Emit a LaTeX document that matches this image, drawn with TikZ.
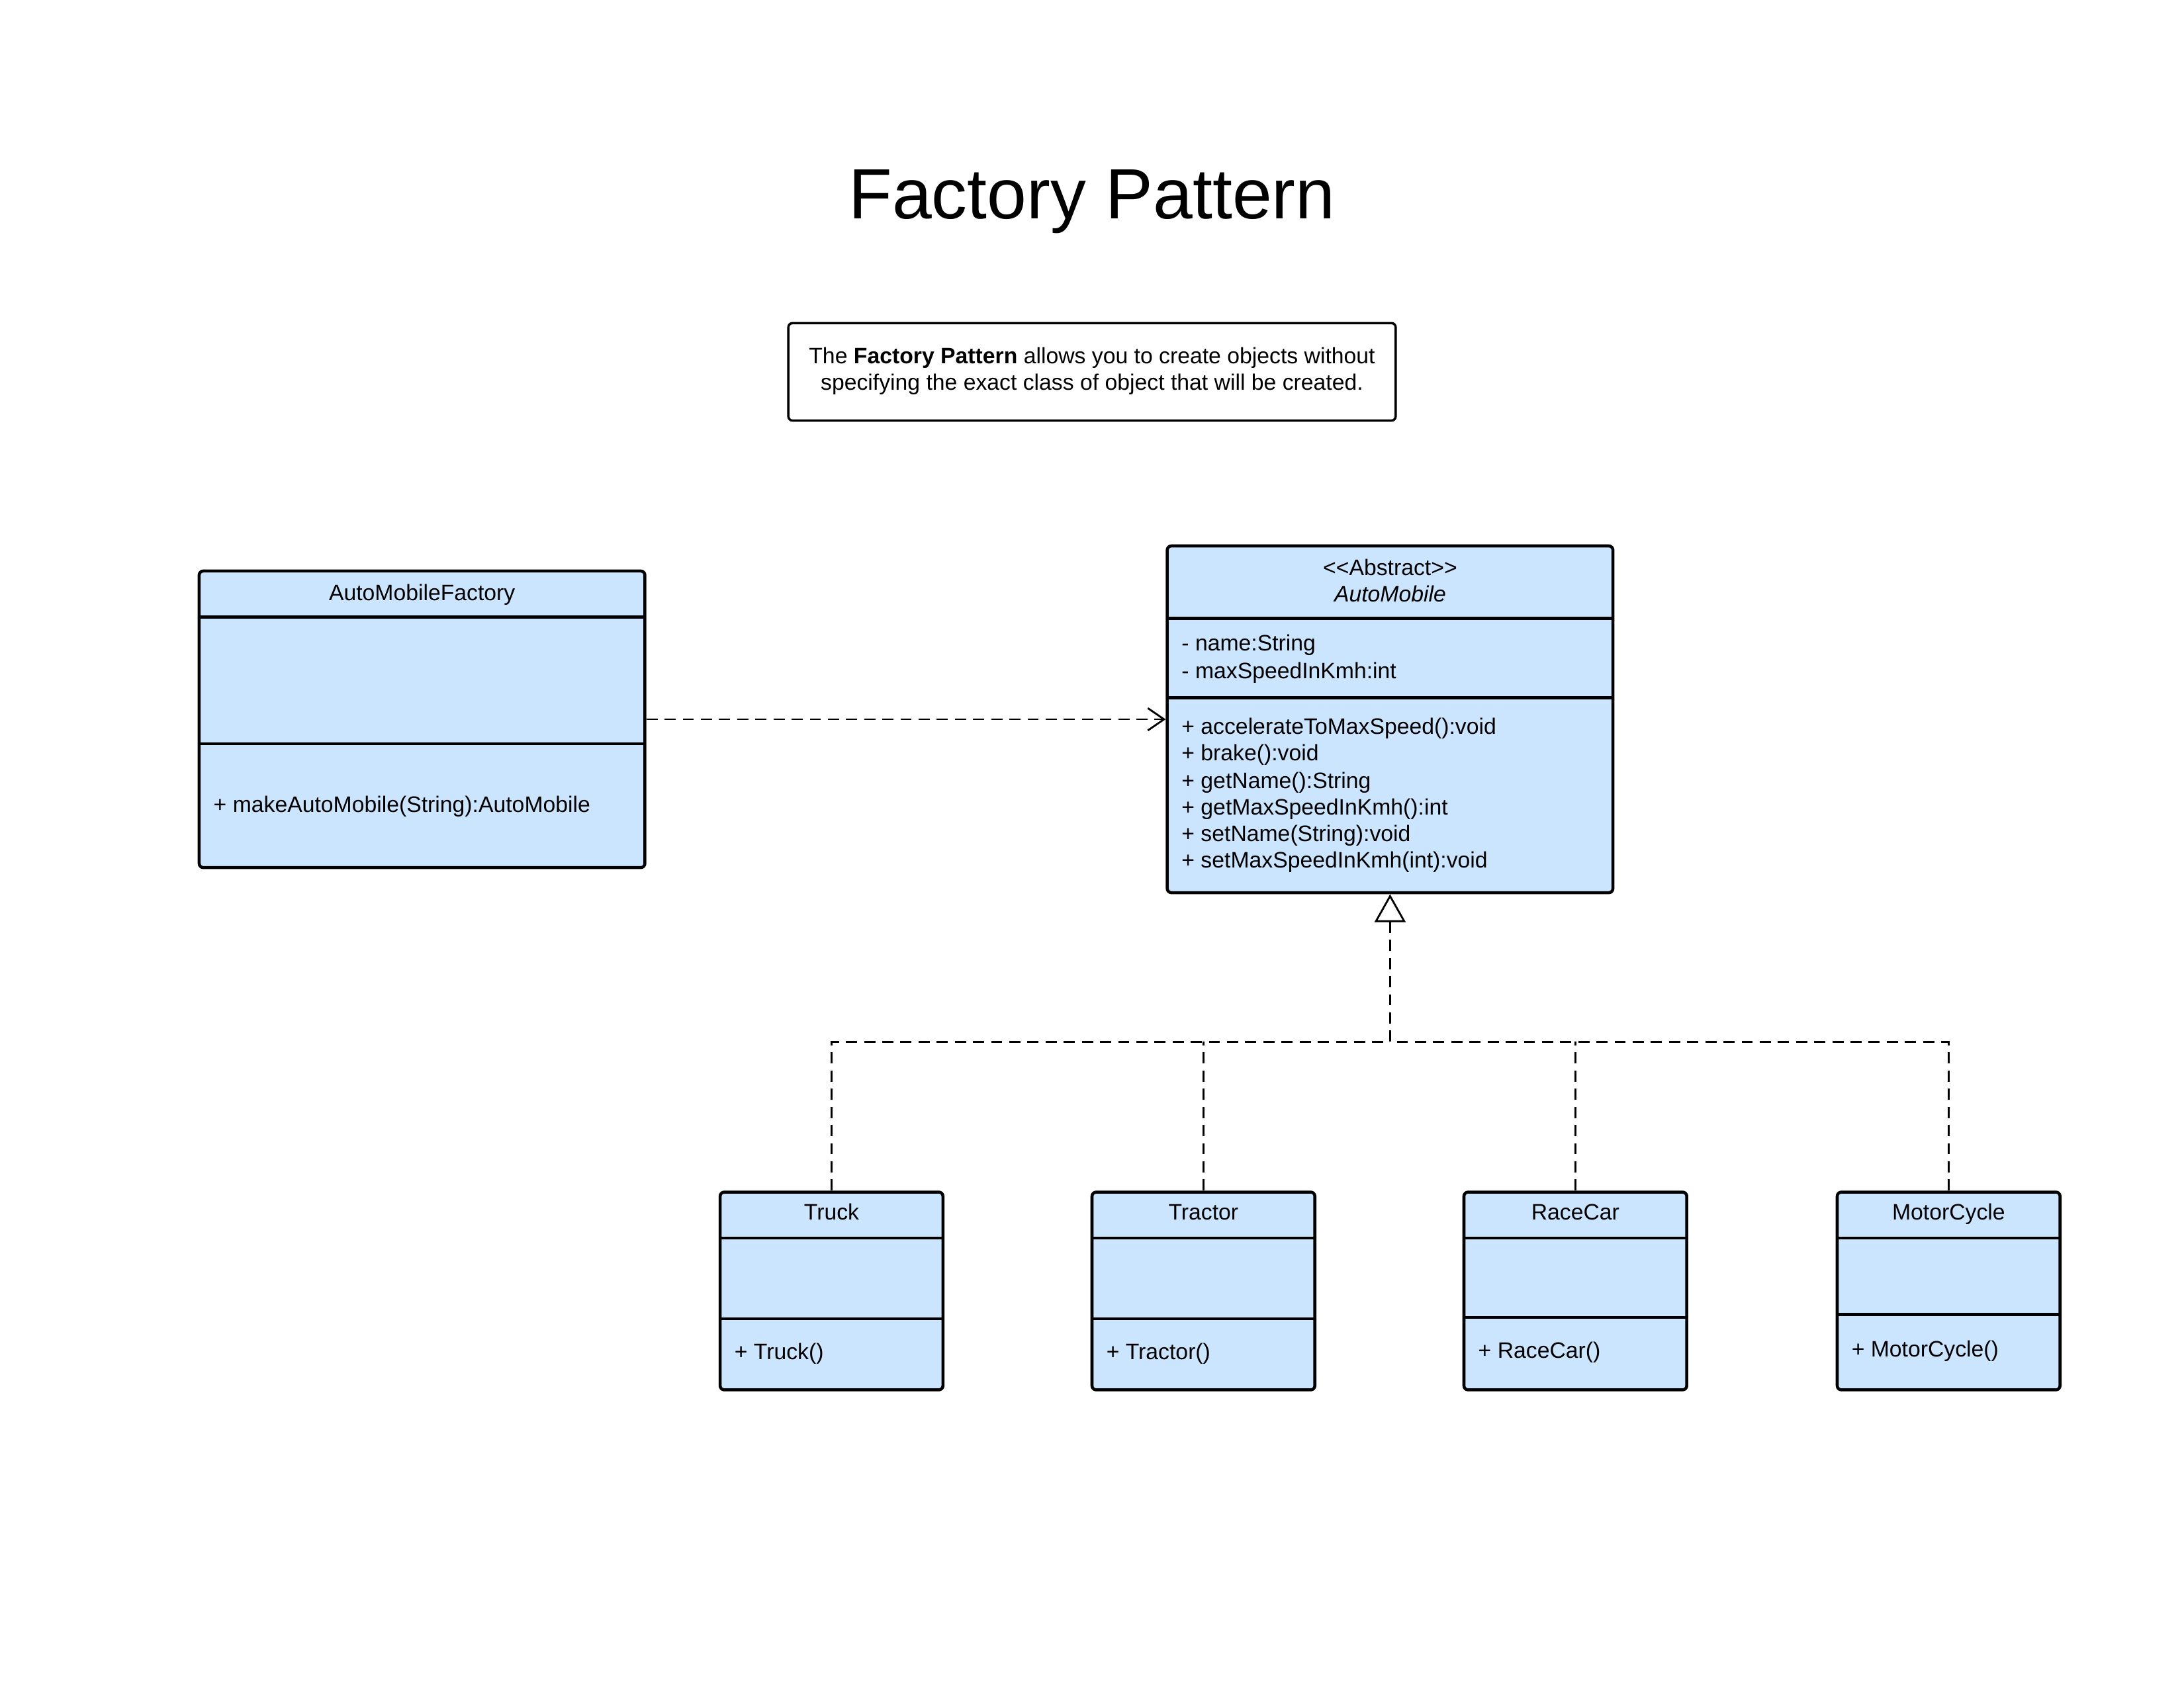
\documentclass[tikz,border=0pt]{standalone}
\usepackage{fontspec}
\setmainfont{Liberation Sans}
\usetikzlibrary{arrows.meta,fit}
\definecolor{classfill}{RGB}{204,229,255}
\begin{document}
\begin{tikzpicture}[x=0.021046cm,y=-0.021046cm,
  umlbox/.style={draw=black, line width=1.3pt, fill=classfill, rounded corners=1.8pt, inner sep=0pt},
  notebox/.style={draw=black, line width=1pt, fill=white, rounded corners=1.8pt, inner sep=0pt},
  divider/.style={line width=1.3pt},
  txt/.style={font=\fontsize{9.6pt}{11.5pt}\selectfont, inner sep=0pt, text height=6.9pt, text depth=2pt, yshift=-1.2pt},
  dep/.style={line width=0.7pt, dash pattern=on 4.8pt off 3pt},
  realize/.style={dep, -{Triangle[open, fill=white, length=12pt, width=13.3pt, line width=0.8pt]}},
  uses/.style={dep, -{Straight Barb[length=7pt, width=9.6pt, line width=0.8pt]}}
]
\useasboundingbox (0,0) rectangle (1568,1212);

% title
\node[font=\fontsize{30.6pt}{36pt}\selectfont, inner sep=0pt, text height=22pt, text depth=6.4pt] (title) at (784,144) {Factory Pattern};

% description
\node[notebox, fit={(566,232)(1002,302)}] (note) {};
\node[txt] (note1) at (784,255) {The \textbf{Factory Pattern} allows you to create objects without};
\node[txt] (note2) at (784,274) {specifying the exact class of object that will be created.};

% AutoMobileFactory
\node[umlbox, fit={(143,410)(463,623)}] (factory) {};
\draw[divider] (143,443) -- (463,443);
\draw[divider] (143,534) -- (463,534);
\node[txt] (factoryname) at (303,425) {AutoMobileFactory};
\node[txt, anchor=west] (factorym1) at (153,577) {+ makeAutoMobile(String):AutoMobile};

% AutoMobile
\node[umlbox, fit={(838,392)(1158,641)}] (am) {};
\draw[divider] (838,444) -- (1158,444);
\draw[divider] (838,501) -- (1158,501);
\node[txt] (amstereo) at (998,407) {<{}<Abstract>{}>};
\node[txt, font=\fontsize{9.6pt}{11.5pt}\selectfont\itshape] (amname) at (998,426) {AutoMobile};
\node[txt, anchor=west] (ama1) at (848,461) {- name:String};
\node[txt, anchor=west] (ama2) at (848,481) {- maxSpeedInKmh:int};
\node[txt, anchor=west] (amm1) at (848,521) {+ accelerateToMaxSpeed():void};
\node[txt, anchor=west] (amm2) at (848,540) {+ brake():void};
\node[txt, anchor=west] (amm3) at (848,560) {+ getName():String};
\node[txt, anchor=west] (amm4) at (848,579) {+ getMaxSpeedInKmh():int};
\node[txt, anchor=west] (amm5) at (848,598) {+ setName(String):void};
\node[txt, anchor=west] (amm6) at (848,617) {+ setMaxSpeedInKmh(int):void};

% subclasses
\node[umlbox, fit={(517,856)(677,998)}] (truck) {};
\draw[divider] (517,889) -- (677,889);
\draw[divider] (517,947) -- (677,947);
\node[txt] (truckname) at (597,870) {Truck};
\node[txt, anchor=west] (truckm) at (527,970) {+ Truck()};

\node[umlbox, fit={(784,856)(944,998)}] (tractor) {};
\draw[divider] (784,889) -- (944,889);
\draw[divider] (784,947) -- (944,947);
\node[txt] (tractorname) at (864,870) {Tractor};
\node[txt, anchor=west] (tractorm) at (794,970) {+ Tractor()};

\node[umlbox, fit={(1051,856)(1211,998)}] (racecar) {};
\draw[divider] (1051,889) -- (1211,889);
\draw[divider] (1051,946) -- (1211,946);
\node[txt] (racecarname) at (1131,870) {RaceCar};
\node[txt, anchor=west] (racecarm) at (1061,969) {+ RaceCar()};

\node[umlbox, fit={(1319,856)(1479,998)}] (moto) {};
\draw[divider] (1319,889) -- (1479,889);
\draw[divider] (1319,944) -- (1479,944);
\node[txt] (motoname) at (1399,870) {MotorCycle};
\node[txt, anchor=west] (motom) at (1329,968) {+ MotorCycle()};

% connectors
\draw[uses] (factory.east) -- (am.west);
\coordinate (hub) at (998,748);
\draw[realize] (hub) -- (am.south);
\draw[dep] (truck.north) |- (hub);
\draw[dep] (moto.north) |- (hub);
\draw[dep] (tractor.north) -- (tractor.north |- hub);
\draw[dep] (racecar.north) -- (racecar.north |- hub);
\end{tikzpicture}
\end{document}
